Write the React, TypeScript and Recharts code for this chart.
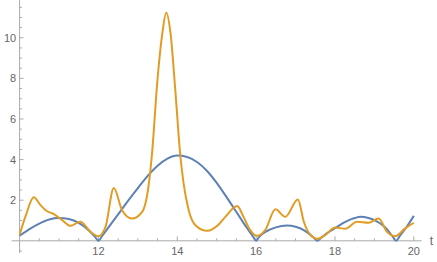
import React from "react";
import { LineChart, Line, XAxis, YAxis, ReferenceLine } from "recharts";

// blue curve
const blueT = [
  10, 10.25, 10.5, 10.75, 11, 11.25, 11.5, 11.75, 11.92, 12, 12.08, 12.25, 12.5,
  12.75, 13, 13.25, 13.5, 13.75, 14, 14.25, 14.5, 14.75, 15, 15.25, 15.5, 15.75,
  15.92, 16, 16.08, 16.25, 16.5, 16.78, 17, 17.25, 17.45, 17.55, 17.65, 17.8, 18,
  18.25, 18.5, 18.65, 18.85, 19, 19.25, 19.45, 19.55, 19.65, 19.8, 20,
];
const blueV = [
  0.25, 0.58, 0.85, 1.05, 1.12, 1.07, 0.88, 0.52, 0.18, 0, 0.2, 0.65, 1.3, 1.97,
  2.6, 3.2, 3.7, 4.05, 4.2, 4.13, 3.88, 3.45, 2.85, 2.15, 1.42, 0.68, 0.22, 0,
  0.2, 0.45, 0.66, 0.75, 0.69, 0.48, 0.18, 0, 0.15, 0.38, 0.62, 0.92, 1.12, 1.18,
  1.12, 1.02, 0.7, 0.25, 0, 0.25, 0.63, 1.23,
];

// orange curve
const orangeT = [
  10, 10.15, 10.36, 10.53, 10.66, 10.87, 11.08, 11.29, 11.54, 11.8, 12, 12.18,
  12.39, 12.6, 12.85, 13.11, 13.28, 13.36, 13.49, 13.62, 13.72, 13.83, 13.95,
  14.08, 14.16, 14.29, 14.46, 14.76, 15.05, 15.22, 15.52, 15.68, 15.85, 16.02,
  16.23, 16.49, 16.74, 17.06, 17.21, 17.38, 17.55, 17.75, 18, 18.26, 18.56,
  18.85, 19.11, 19.32, 19.53, 19.78, 20,
];
const orangeV = [
  0.3, 1.2, 2.14, 1.76, 1.51, 1.31, 1.02, 0.74, 0.94, 0.44, 0.23, 0.69, 2.6,
  1.51, 1.1, 1.43, 2.83, 4.3, 7.75, 10.2, 11.23, 10.2, 7.42, 4.14, 2.83, 1.51,
  0.77, 0.49, 0.8, 1.18, 1.71, 1.18, 0.53, 0.25, 0.53, 1.55, 1.18, 2.04, 0.94,
  0.28, 0.1, 0.28, 0.66, 0.59, 0.94, 0.89, 1.1, 0.44, 0.23, 0.61, 0.89,
];

const xLabels = [12, 14, 16, 18, 20];
const yLabels = [2, 4, 6, 8, 10];
const xMinor = [10.5, 11, 11.5, 12.5, 13, 13.5, 14.5, 15, 15.5, 16.5, 17, 17.5, 18.5, 19, 19.5];
const yMinor = [-0.5, 0.5, 1, 1.5, 2.5, 3, 3.5, 4.5, 5, 5.5, 6.5, 7, 7.5, 8.5, 9, 9.5, 10.5, 11, 11.5];

const blueData = blueT.map((t, i) => ({ t, v: blueV[i] }));
const orangeData = orangeT.map((t, i) => ({ t, v: orangeV[i] }));

const AXIS = "#aaaaaa";
const LABEL = "#666666";
const FONT = "'Liberation Sans', Arial, sans-serif";

export default function App() {
  return (
    <div style={{ position: "absolute", left: 0, top: 0 }}>
      <LineChart width={437} height={262} margin={{ top: 0, right: 15.3, bottom: 0, left: 0 }}>
        <XAxis
          type="number"
          dataKey="t"
          domain={[9.8, 20.2]}
          ticks={xLabels}
          axisLine={false}
          tickLine={false}
          tickSize={0}
          tickMargin={0}
          height={9}
          allowDataOverflow
          tick={{ fill: LABEL, fontSize: 11, fontFamily: FONT, dy: -6 }}
        />
        <YAxis
          type="number"
          domain={[-0.6, 11.86]}
          ticks={yLabels}
          axisLine={false}
          tickLine={false}
          tickSize={0}
          tickMargin={0}
          width={11.7}
          allowDataOverflow
          tick={{ fill: LABEL, fontSize: 11, fontFamily: FONT, dx: 4.5 }}
        />
        <ReferenceLine
          y={0}
          stroke={AXIS}
          label={{ value: "t", position: "right", offset: 8, fill: LABEL, fontSize: 12, fontFamily: FONT }}
        />
        <ReferenceLine x={10} stroke={AXIS} />
        {xLabels.map((t) => (
          <ReferenceLine key={"xM" + t} segment={[{ x: t, y: 0 }, { x: t, y: 0.22 }]} stroke={AXIS} />
        ))}
        {xMinor.map((t) => (
          <ReferenceLine key={"xm" + t} segment={[{ x: t, y: 0 }, { x: t, y: 0.12 }]} stroke={AXIS} />
        ))}
        {yLabels.map((v) => (
          <ReferenceLine key={"yM" + v} segment={[{ x: 10, y: v }, { x: 10.1, y: v }]} stroke={AXIS} />
        ))}
        {yMinor.map((v) => (
          <ReferenceLine key={"ym" + v} segment={[{ x: 10, y: v }, { x: 10.06, y: v }]} stroke={AXIS} />
        ))}
        <Line
          data={blueData}
          dataKey="v"
          type="monotone"
          stroke="#5E81B5"
          strokeWidth={2}
          dot={false}
          isAnimationActive={false}
        />
        <Line
          data={orangeData}
          dataKey="v"
          type="monotone"
          stroke="#E19C24"
          strokeWidth={2}
          dot={false}
          isAnimationActive={false}
        />
      </LineChart>
    </div>
  );
}
